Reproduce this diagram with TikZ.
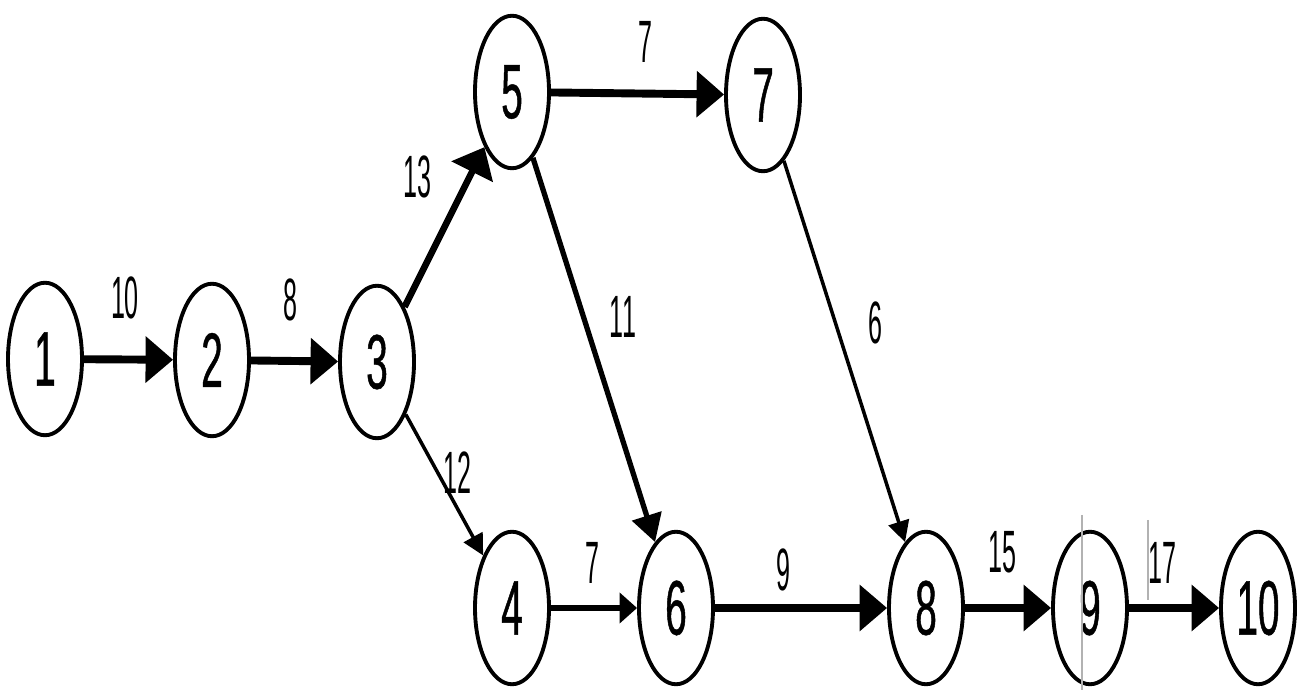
\documentclass[tikz,border=0pt]{standalone}
\usepackage{fontspec}
\newfontfamily\eventfont[FakeStretch=0.5,FakeBold=0.6]{Liberation Sans}
\newfontfamily\durfont[FakeStretch=0.42]{Liberation Sans}
\usepackage{tikz}
\usetikzlibrary{arrows.meta,shapes.geometric}
\tikzset{
  event/.style={ellipse,draw,line width=2.2pt,minimum width=1.48cm,minimum height=3.05cm,inner sep=0pt,font=\eventfont\fontsize{44}{44}\selectfont},
  dur/.style={font=\durfont\fontsize{34}{34}\selectfont},
  heavy/.style={line width=4.5pt,-{Triangle[length=0.55cm,width=0.9cm]}},
  medium/.style={line width=3pt,-{Triangle[length=0.55cm,width=0.6cm]}},
  light/.style={line width=2pt,-{Triangle[length=0.42cm,width=0.42cm]}}
}

\begin{document}
\begin{tikzpicture}[x=1cm,y=1cm]
  \useasboundingbox (0,0) rectangle (26.04,13.86);
  % events
  \node[event] (e1) at (0.90,6.68) {1};
  \node[event] (e2) at (4.24,6.66) {2};
  \node[event] (e3) at (7.54,6.62) {3};
  \node[event] (e5) at (10.24,12.02) {5};
  \node[event] (e7) at (15.26,11.96) {7};
  \node[event] (e4) at (10.24,1.70) {4};
  \node[event] (e6) at (13.52,1.70) {6};
  \node[event] (e8) at (18.52,1.70) {8};
  \node[event] (e9) at (21.80,1.70) {9};
  \node[event] (e10) at (25.16,1.70) {10};
  % activities
  \draw[heavy] (e1)--(e2); \draw[heavy] (e2)--(e3);
  \draw[heavy,line width=3.8pt] (e3)--(e5); \draw[heavy] (e5)--(e7);
  \draw[medium] (e5)--(e6); \draw[light] (e7)--(e8);
  \draw[light] (e3)--(e4); \draw[medium,-{Triangle[length=0.35cm,width=0.6cm]}] (e4)--(e6);
  \draw[heavy] (e6)--(e8); \draw[heavy] (e8)--(e9); \draw[heavy] (e9)--(e10);
  % durations
  \node[dur] (d12) at (2.50,7.90) {10};
  \node[dur] (d23) at (5.80,7.86) {8};
  \node[dur] (d35) at (8.34,10.32) {13};
  \node[dur] (d57) at (12.90,13.02) {7};
  \node[dur] (d56) at (12.46,7.52) {11};
  \node[dur] (d78) at (17.50,7.40) {6};
  \node[dur] (d34) at (9.14,4.40) {12};
  \node[dur] (d46) at (11.84,2.60) {7};
  \node[dur] (d68) at (15.66,2.46) {9};
  \node[dur] (d89) at (20.04,2.82) {15};
  \node[dur] (d910) at (23.24,2.60) {17};
  % scan marks
  \draw[gray!60,line width=0.8pt] (21.64,3.56)--(21.64,0.06);
  \draw[gray!60,line width=0.8pt] (22.96,3.46)--(22.96,1.86);
\end{tikzpicture}
\end{document}
